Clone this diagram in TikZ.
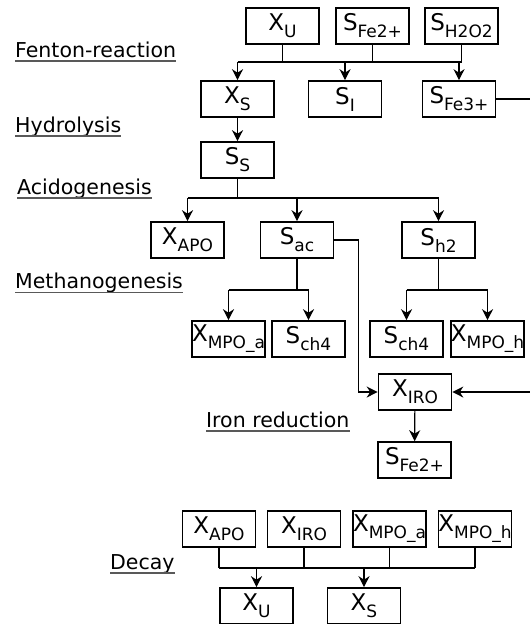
\documentclass[tikz,border=0pt]{standalone}
\usepackage{fontspec}
\setmainfont{DejaVu Sans}
\usetikzlibrary{arrows.meta}
\newcommand\bxt[2]{#1\raisebox{-7pt}{\fontsize{17}{17}\selectfont #2}}
\begin{document}
\begin{tikzpicture}[x=1pt,y=-1pt,
  box/.style={draw, line width=1.6pt, minimum width=73pt, minimum height=36pt, inner sep=0pt, font=\fontsize{23}{23}\selectfont},
  lab/.style={anchor=base west, inner sep=0pt, font=\fontsize{20.5}{24}\selectfont},
  ln/.style={line width=1.2pt},
  arr/.style={ln, -{Stealth[length=11pt,width=11pt,inset=3.5pt]}},
  ul/.style={line width=1.3pt, color=black!65}]
\useasboundingbox (0,0) rectangle (530,624);
% labels
\node[lab] (l1) at (15,57) {Fenton-reaction};
\node[lab] (l2) at (15,132) {Hydrolysis};
\node[lab] (l3) at (17,194) {Acidogenesis};
\node[lab] (l4) at (15,288.5) {Methanogenesis};
\node[lab] (l5) at (206,427) {Iron reduction};
\node[lab] (l6) at (110,569) {Decay};
\foreach \l in {l1,l2,l3,l4,l5,l6}
  \draw[ul] ([yshift=-4pt]\l.base west) -- ([yshift=-4pt]\l.base east);
% Fenton
\node[box] (xu1) at (282.5,26) {\bxt{X}{U}};
\node[box] (sfe2a) at (372.5,26) {\bxt{S}{Fe2+}};
\node[box] (sh2o2) at (461.5,26) {\bxt{S}{H2O2}};
\node[box] (xs1) at (237.5,99) {\bxt{X}{S}};
\node[box] (si) at (345,99) {\bxt{S}{I}};
\node[box] (sfe3) at (459,99) {\bxt{S}{Fe3+}};
\coordinate (fb) at (0,62);
\draw[ln] (xu1.south) -- (xu1.south |- fb);
\draw[ln] (sfe2a.south) -- (sfe2a.south |- fb);
\draw[ln] (sh2o2.south) -- (sh2o2.south |- fb);
\draw[ln] (xs1.north |- fb) -- (sh2o2.south |- fb);
\draw[arr] (xs1.north |- fb) -- (xs1.north);
\draw[arr] (si.north |- fb) -- (si.north);
\draw[arr] (sfe3.north |- fb) -- (sfe3.north);
% Hydrolysis
\node[box] (ss) at (237.5,160) {\bxt{S}{S}};
\draw[arr] (xs1) -- (ss);
% Acidogenesis
\node[box] (xapo1) at (187.5,240) {\bxt{X}{APO}};
\node[box] (sac) at (297,240) {\bxt{S}{ac}};
\node[box] (sh2) at (438.5,240) {\bxt{S}{h2}};
\coordinate (ab) at (0,198);
\draw[ln] (ss.south) -- (ss.south |- ab);
\draw[ln] (xapo1.north |- ab) -- (sh2.north |- ab);
\draw[arr] (xapo1.north |- ab) -- (xapo1.north);
\draw[arr] (sac.north |- ab) -- (sac.north);
\draw[arr] (sh2.north |- ab) -- (sh2.north);
% Methanogenesis
\node[box] (xmpoa1) at (228.5,339) {\bxt{X}{MPO\_a}};
\node[box] (sch4a) at (308.5,339) {\bxt{S}{ch4}};
\node[box] (sch4b) at (406.5,339) {\bxt{S}{ch4}};
\node[box] (xmpoh1) at (487.5,339) {\bxt{X}{MPO\_h}};
\coordinate (mb) at (0,290);
\draw[ln] (sac.south) -- (sac.south |- mb);
\draw[ln] (xmpoa1.north |- mb) -- (sch4a.north |- mb);
\draw[arr] (xmpoa1.north |- mb) -- (xmpoa1.north);
\draw[arr] (sch4a.north |- mb) -- (sch4a.north);
\draw[ln] (sh2.south) -- (sh2.south |- mb);
\draw[ln] (sch4b.north |- mb) -- (xmpoh1.north |- mb);
\draw[arr] (sch4b.north |- mb) -- (sch4b.north);
\draw[arr] (xmpoh1.north |- mb) -- (xmpoh1.north);
% Iron reduction
\node[box] (xiro1) at (415,392) {\bxt{X}{IRO}};
\node[box] (sfe2b) at (414.5,460) {\bxt{S}{Fe2+}};
\coordinate (rc) at (533,250);
\draw[arr] (sac.east) -- ++(24,0) |- (xiro1.west);
\draw[arr] (sfe3.east) -| (rc) |- (xiro1.east);
\draw[arr] (xiro1) -- (sfe2b);
% Decay
\node[box] (xapo2) at (219,529) {\bxt{X}{APO}};
\node[box] (xiro2) at (304,529) {\bxt{X}{IRO}};
\node[box] (xmpoa2) at (389.5,529) {\bxt{X}{MPO\_a}};
\node[box] (xmpoh2) at (475,529) {\bxt{X}{MPO\_h}};
\node[box] (xu2) at (256.5,606) {\bxt{X}{U}};
\node[box] (xs2) at (364,606) {\bxt{X}{S}};
\coordinate (db) at (0,568);
\foreach \n in {xapo2,xiro2,xmpoa2,xmpoh2}
  \draw[ln] (\n.south) -- (\n.south |- db);
\draw[ln] (xapo2.south |- db) -- (xmpoh2.south |- db);
\draw[arr] (xu2.north |- db) -- (xu2.north);
\draw[arr] (xs2.north |- db) -- (xs2.north);
\end{tikzpicture}
\end{document}
